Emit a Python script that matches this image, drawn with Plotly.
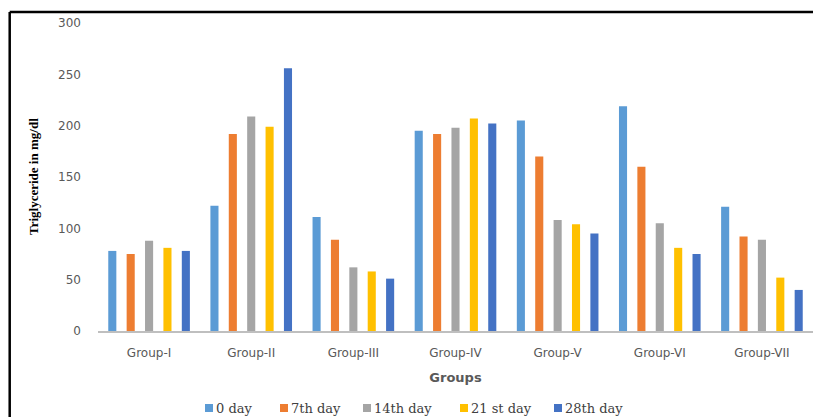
import plotly.graph_objects as go

groups = ["Group-I", "Group-II", "Group-III", "Group-IV", "Group-V", "Group-VI", "Group-VII"]
series_names = ["0 day", "7th day", "14th day", "21 st day", "28th day"]
day0 = [78, 122, 111, 195, 205, 219, 121]
day7 = [75, 192, 89, 192, 170, 160, 92]
day14 = [88, 209, 62, 198, 108, 105, 89]
day21 = [81, 199, 58, 207, 104, 81, 52]
day28 = [78, 256, 51, 202, 95, 75, 40]
colors = ["#5B9BD5", "#ED7D31", "#A5A5A5", "#FFC000", "#4472C4"]
y_ticks = [0, 50, 100, 150, 200, 250, 300]

W, H = 813, 417
ml, mr, mt, mb = 98, 0, 23, 86
pw, ph = W - ml - mr, H - mt - mb

def px_x(px):
    return (px - ml) / pw

def px_y(py):
    return (H - mb - py) / ph

fig = go.Figure()
for name, vals, col in zip(series_names, [day0, day7, day14, day21, day28], colors):
    fig.add_trace(go.Bar(x=groups, y=vals, name=name, showlegend=False,
                         marker=dict(color=col, line=dict(width=0))))

fig.update_layout(
    width=W, height=H,
    margin=dict(l=ml, r=mr, t=mt, b=mb),
    paper_bgcolor="white", plot_bgcolor="white",
    barmode="group", bargap=0.10, bargroupgap=0.56,
    showlegend=False,
    xaxis=dict(showgrid=False, showline=True, linecolor="#BFBFBF", linewidth=2,
               ticks="", ticklabelstandoff=10,
               tickfont=dict(family="DejaVu Sans", size=12, color="#595959"),
               title=dict(text="<b>Groups</b>", font=dict(family="DejaVu Sans", size=13, color="#595959"),
                          standoff=13)),
    yaxis=dict(range=[0, 300], tickvals=y_ticks, showgrid=False, zeroline=False, showline=False,
               ticks="", ticklabelstandoff=16,
               tickfont=dict(family="DejaVu Sans", size=12, color="#595959")),
    font=dict(family="DejaVu Sans"),
)

fig.add_annotation(text="<b>Triglyceride in mg/dl</b>", xref="paper", yref="paper",
                   x=px_x(33), y=px_y(177), textangle=-90, showarrow=False,
                   font=dict(family="Liberation Serif", size=13, color="black"),
                   xanchor="center", yanchor="middle")

# manual legend
legend_sq_x = [205, 280, 363, 460, 554]
for name, col, sx in zip(series_names, colors, legend_sq_x):
    fig.add_shape(type="rect", xref="paper", yref="paper",
                  x0=px_x(sx), x1=px_x(sx + 8), y0=px_y(412), y1=px_y(404),
                  fillcolor=col, line=dict(width=0))
    fig.add_annotation(text=name, xref="paper", yref="paper",
                       x=px_x(sx + 9), y=px_y(408), showarrow=False,
                       xanchor="left", yanchor="middle",
                       font=dict(family="DejaVu Serif", size=13, color="#404040"))

fig.add_shape(type="line", xref="paper", yref="paper", x0=px_x(9.7), x1=px_x(9.7),
              y0=px_y(425), y1=px_y(12), line=dict(color="black", width=2.5))
fig.add_shape(type="line", xref="paper", yref="paper", x0=px_x(9.7), x1=px_x(830),
              y0=px_y(12), y1=px_y(12), line=dict(color="black", width=2.5))

fig.write_html("out.html")
